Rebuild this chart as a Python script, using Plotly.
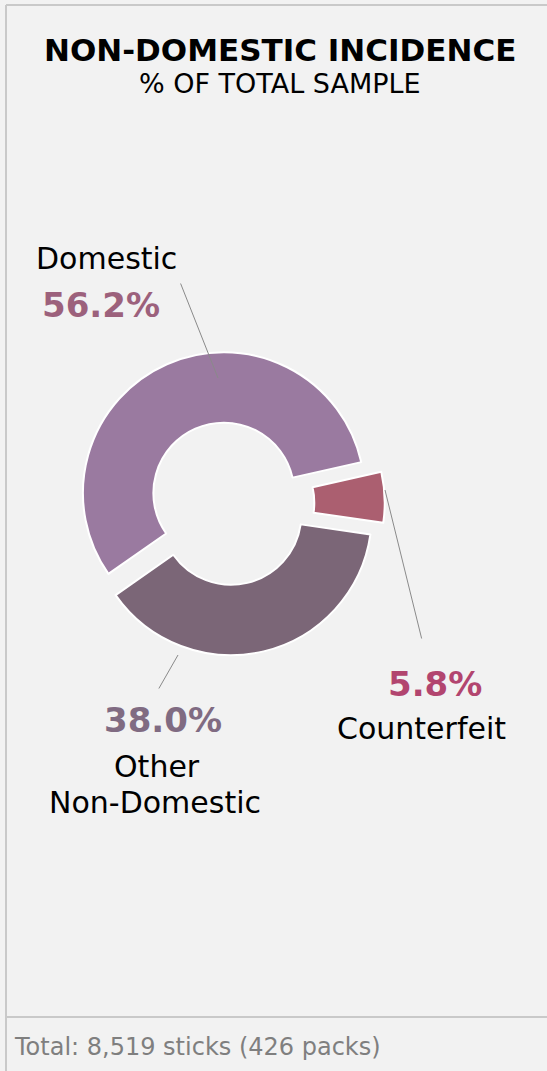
import plotly.graph_objects as go

# data
categories = ["Domestic", "Counterfeit", "Other Non-Domestic"]
shares = [56.2, 5.8, 38.0]
total_sticks = 8519
total_packs = 426

slice_colors = ["#9a7aa0", "#ab5f70", "#7b6677"]
pct_colors = ["#9c617c", "#b2456f", "#806b82"]

W, H = 547, 1071
FONT = "DejaVu Sans"


def px(x, y):
    # page pixels -> paper coords
    return x / W, 1 - y / H


fig = go.Figure()

fig.add_trace(go.Pie(
    labels=categories,
    values=shares,
    hole=0.5,
    sort=False,
    direction="clockwise",
    rotation=235,
    pull=[0.08, 0.11, 0.08],
    marker=dict(colors=slice_colors, line=dict(color="white", width=2)),
    textinfo="none",
    hoverinfo="label+percent",
    showlegend=False,
    domain=dict(x=[0.131, 0.704], y=[0.384, 0.676]),
))

annotations = []

# title block
for txt, y, size, bold in [("NON-DOMESTIC INCIDENCE", 50, 31, True),
                           ("% OF TOTAL SAMPLE", 84, 27, False)]:
    x0, y0 = px(280, y)
    annotations.append(dict(
        x=x0, y=y0, xref="paper", yref="paper", showarrow=False,
        text=f"<b>{txt}</b>" if bold else txt,
        font=dict(family=FONT, size=size, color="#000000"),
        xanchor="center", yanchor="middle"))

# leader lines (head on slice, tail toward label)
leaders = [((218, 378), (180, 282)),
           ((385, 490), (422, 640)),
           ((178, 655), (158, 690))]
for (hx, hy), (tx, ty) in leaders:
    x0, y0 = px(hx, hy)
    annotations.append(dict(
        x=x0, y=y0, xref="paper", yref="paper", text="",
        showarrow=True, arrowhead=0, arrowwidth=1, arrowcolor="#8a8a8a",
        ax=tx - hx, ay=ty - hy, standoff=0, startstandoff=0))

# category labels and percentages
label_pos = {
    "Domestic": [(106, 258, "Domestic"), (101, 305, None)],
    "Counterfeit": [(435, 684, None), (421, 728, "Counterfeit")],
    "Other Non-Domestic": [(163, 720, None), (157, 766, "Other"),
                           (155, 802, "Non-Domestic")],
}
for i, cat in enumerate(categories):
    for x, y, txt in label_pos[cat]:
        x0, y0 = px(x, y)
        if txt is None:
            text = f"<b>{shares[i]:.1f}%</b>"
            font = dict(family=FONT, size=34, color=pct_colors[i])
        else:
            text = txt
            font = dict(family=FONT, size=30, color="#000000")
        annotations.append(dict(
            x=x0, y=y0, xref="paper", yref="paper", showarrow=False,
            text=text, font=font, xanchor="center", yanchor="middle"))

# footer
fx, fy = px(12, 1047)
annotations.append(dict(
    x=fx, y=fy, xref="paper", yref="paper", showarrow=False,
    text=f"Total: {total_sticks:,} sticks ({total_packs} packs)",
    font=dict(family=FONT, size=24, color="#7f7f7f"),
    xanchor="left", yanchor="middle"))

border = "#c9c9c9"
lx, _ = px(6, 0)
_, ty = px(0, 5)
_, sy = px(0, 1017)
shapes = [
    dict(type="line", xref="paper", yref="paper", x0=lx, x1=lx, y0=0, y1=ty,
         line=dict(color=border, width=2)),
    dict(type="line", xref="paper", yref="paper", x0=lx, x1=1, y0=ty, y1=ty,
         line=dict(color=border, width=2)),
    dict(type="line", xref="paper", yref="paper", x0=lx, x1=1, y0=sy, y1=sy,
         line=dict(color=border, width=2)),
]

fig.update_layout(
    width=W, height=H,
    margin=dict(l=0, r=0, t=0, b=0),
    paper_bgcolor="#f2f2f2",
    plot_bgcolor="#f2f2f2",
    annotations=annotations,
    shapes=shapes,
    font=dict(family=FONT),
)

fig.write_html("out.html", config={"displayModeBar": False},
               post_script="document.body.style.margin='0';")
